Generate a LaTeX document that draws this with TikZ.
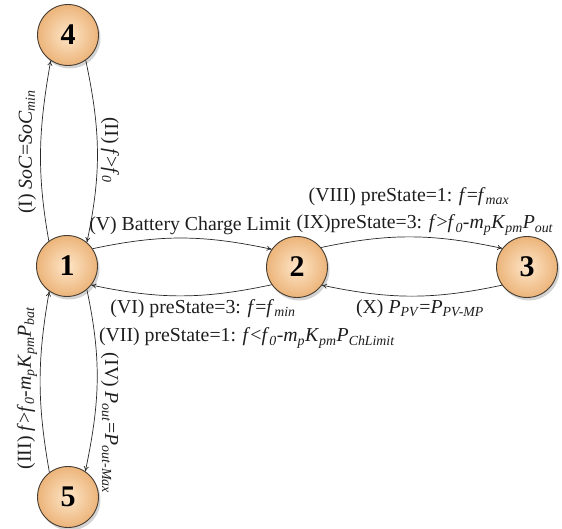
\documentclass[tikz,border=0pt]{standalone}
\usepackage{fontspec}
\setmainfont{Liberation Serif}
\usetikzlibrary{shadows,arrows.meta}
\tikzset{
  state/.style={circle, minimum size=61pt, inner sep=0pt, draw={rgb,255:red,70;green,60;blue,50}, line width=0.9pt,
    inner color={rgb,255:red,254;green,230;blue,200}, outer color={rgb,255:red,236;green,180;blue,122},
    drop shadow={opacity=0.35, shadow xshift=2pt, shadow yshift=-3pt},
    font=\fontsize{30}{32}\selectfont\bfseries},
  edge/.style={draw={rgb,255:red,40;green,40;blue,40}, line width=0.7pt, -{To[length=5pt,width=5pt]}},
  lab/.style={inner sep=0pt, font=\fontsize{19.8}{22}\selectfont, text={rgb,255:red,30;green,30;blue,30}}
}
\newcommand{\myit}[1]{\textit{#1}}
\newcommand{\mysub}[1]{\textsubscript{\textit{#1}}}
\begin{document}
\begin{tikzpicture}[x=1pt,y=-1pt]
\useasboundingbox (0,0) rectangle (562,529);
\node[state] (n4) at (68,35) {4};
\node[state] (n1) at (67,266) {1};
\node[state] (n2) at (297,267) {2};
\node[state] (n3) at (527,267) {3};
\node[state] (n5) at (68,497) {5};
% 1 <-> 4
\draw[edge] (n1.126) to[out=100,in=260] (n4.236);
\draw[edge] (n4.305) to[out=-78,in=78] (n1.50);
% 1 <-> 5
\draw[edge] (n5.127) to[out=100,in=260] (n1.235);
\draw[edge] (n1.310) to[out=-78,in=78] (n5.56);
% 1 <-> 2
\draw[edge] (n1.34) to[out=12,in=168] (n2.145);
\draw[edge] (n2.215) to[out=192,in=-12] (n1.322);
% 2 <-> 3
\draw[edge] (n2.39) to[out=12,in=168] (n3.143);
\draw[edge] (n3.216) to[out=192,in=-12] (n2.324);
% labels
\node[lab, rotate=90] (l1) at (27,152) {(I) \myit{SoC}=\myit{SoC}\mysub{min}};
\node[lab, rotate=-90] (l2) at (110,150) {(II) \myit{f}>\myit{f}\mysub{0}};
\node[lab, rotate=90] (l3) at (27,388) {(III) \myit{f}>\myit{f}\mysub{0}-\myit{m}\mysub{p}\myit{K}\mysub{pm}\myit{P}\mysub{bat}};
\node[lab, rotate=-90] (l4) at (110,423) {(IV) \myit{P}\mysub{out}=\myit{P}\mysub{out-Max}};
\node[lab] (l5) at (190,226) {(V) Battery Charge Limit};
\node[lab] (l6) at (203,309) {(VI) preState=3: \myit{f}=\myit{f}\mysub{min}};
\node[lab] (l7) at (247,338) {(VII) preState=1: \myit{f}<\myit{f}\mysub{0}-\myit{m}\mysub{p}\myit{K}\mysub{pm}\myit{P}\mysub{ChLimit}};
\node[lab] (l8) at (409,197) {(VIII) preState=1: \myit{f}=\myit{f}\mysub{max}};
\node[lab] (l9) at (425,225) {(IX)preState=3: \myit{f}>\myit{f}\mysub{0}-\myit{m}\mysub{p}\myit{K}\mysub{pm}\myit{P}\mysub{out}};
\node[lab] (l10) at (420,309) {(X) \myit{P}\mysub{PV}=\myit{P}\mysub{PV-MP}};
\end{tikzpicture}
\end{document}
